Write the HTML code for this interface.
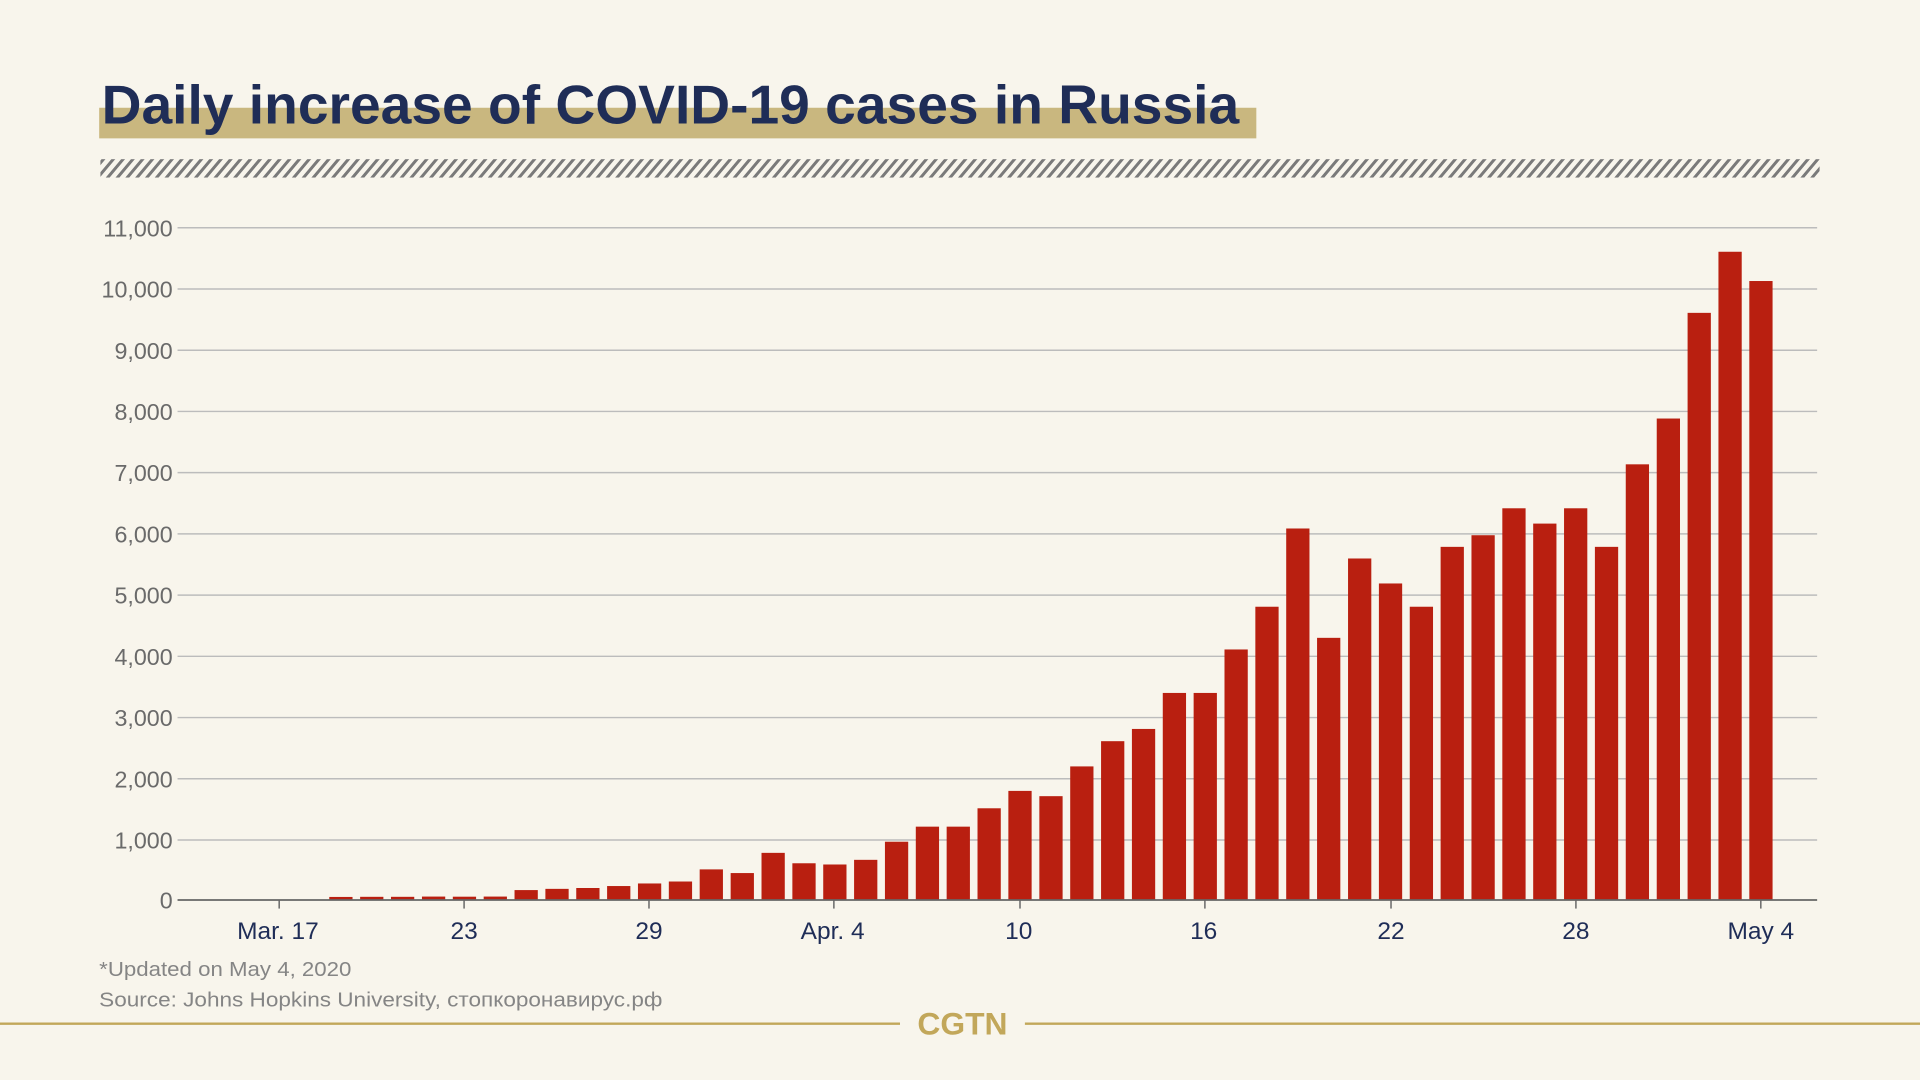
<!DOCTYPE html>
<html><head><meta charset="utf-8"><style>
html,body{margin:0;padding:0;width:1920px;height:1080px;overflow:hidden;background:#f8f5ec}
svg{display:block}
</style></head><body>
<svg width="1920" height="1080" viewBox="0 0 1568 882" preserveAspectRatio="none" xmlns="http://www.w3.org/2000/svg">
<defs>
<pattern id="h" width="8" height="16" patternUnits="userSpaceOnUse" patternTransform="skewX(-40)">
<rect width="8" height="16" fill="#f8f5ec"/><rect width="3.2" height="16" fill="#7a7a7a"/>
</pattern>
</defs>
<rect width="1568" height="882" fill="#f8f5ec"/>
<rect x="81" y="88" width="945" height="25" fill="#c9b77f"/>
<text x="83" y="101" font-family="Liberation Sans, sans-serif" font-weight="bold" font-size="45" fill="#1f2d57" textLength="929" lengthAdjust="spacingAndGlyphs">Daily increase of COVID-19 cases in Russia</text>
<rect x="82" y="130" width="1404" height="15" fill="url(#h)"/>
<g stroke="#bcbcbc" stroke-width="1.2">
<line x1="145" x2="1484" y1="186" y2="186"/><line x1="145" x2="1484" y1="236" y2="236"/>
<line x1="145" x2="1484" y1="286" y2="286"/><line x1="145" x2="1484" y1="336" y2="336"/>
<line x1="145" x2="1484" y1="386" y2="386"/><line x1="145" x2="1484" y1="436" y2="436"/>
<line x1="145" x2="1484" y1="486" y2="486"/><line x1="145" x2="1484" y1="536" y2="536"/>
<line x1="145" x2="1484" y1="586" y2="586"/><line x1="145" x2="1484" y1="636" y2="636"/>
<line x1="145" x2="1484" y1="686" y2="686"/>
</g>
<g font-family="Liberation Sans, sans-serif" font-size="19" fill="#6a6a6a" text-anchor="end">
<text x="141" y="193">11,000</text><text x="141" y="243">10,000</text><text x="141" y="293">9,000</text>
<text x="141" y="343">8,000</text><text x="141" y="393">7,000</text><text x="141" y="443">6,000</text>
<text x="141" y="493">5,000</text><text x="141" y="543">4,000</text><text x="141" y="593">3,000</text>
<text x="141" y="643">2,000</text><text x="141" y="693">1,000</text><text x="141" y="742">0</text>
</g>
<g fill="#b91f10">
<rect x="268.9" y="732.5" width="19" height="2.5"/><rect x="294.1" y="732.4" width="19" height="2.6"/>
<rect x="319.3" y="732.4" width="19" height="2.6"/><rect x="344.6" y="732.2" width="19" height="2.8"/>
<rect x="369.8" y="732.3" width="19" height="2.7"/><rect x="395.0" y="732.2" width="19" height="2.8"/>
<rect x="420.2" y="726.9" width="19" height="8.1"/><rect x="445.4" y="725.9" width="19" height="9.1"/>
<rect x="470.6" y="725.2" width="19" height="9.8"/><rect x="495.8" y="723.6" width="19" height="11.4"/>
<rect x="521.0" y="721.5" width="19" height="13.5"/><rect x="546.2" y="719.9" width="19" height="15.1"/>
<rect x="571.4" y="710.0" width="19" height="25.0"/><rect x="596.7" y="713.0" width="19" height="22.0"/>
<rect x="621.9" y="696.5" width="19" height="38.5"/><rect x="647.1" y="705.0" width="19" height="30.0"/>
<rect x="672.3" y="706.0" width="19" height="29.0"/><rect x="697.5" y="702.2" width="19" height="32.8"/>
<rect x="722.7" y="687.4" width="19" height="47.6"/><rect x="747.9" y="675.1" width="19" height="59.9"/>
<rect x="773.1" y="675.1" width="19" height="59.9"/><rect x="798.3" y="660.1" width="19" height="74.9"/>
<rect x="823.5" y="645.9" width="19" height="89.1"/><rect x="848.8" y="650.2" width="19" height="84.8"/>
<rect x="874.0" y="625.9" width="19" height="109.1"/><rect x="899.2" y="605.3" width="19" height="129.7"/>
<rect x="924.4" y="595.3" width="19" height="139.7"/><rect x="949.6" y="565.9" width="19" height="169.1"/>
<rect x="974.8" y="565.9" width="19" height="169.1"/><rect x="1000.0" y="530.4" width="19" height="204.6"/>
<rect x="1025.2" y="495.5" width="19" height="239.5"/><rect x="1050.4" y="431.6" width="19" height="303.4"/>
<rect x="1075.6" y="520.9" width="19" height="214.1"/><rect x="1100.9" y="456.1" width="19" height="278.9"/>
<rect x="1126.1" y="476.5" width="19" height="258.5"/><rect x="1151.3" y="495.5" width="19" height="239.5"/>
<rect x="1176.5" y="446.6" width="19" height="288.4"/><rect x="1201.7" y="437.1" width="19" height="297.9"/>
<rect x="1226.9" y="415.1" width="19" height="319.9"/><rect x="1252.1" y="427.6" width="19" height="307.4"/>
<rect x="1277.3" y="415.1" width="19" height="319.9"/><rect x="1302.5" y="446.6" width="19" height="288.4"/>
<rect x="1327.7" y="379.2" width="19" height="355.8"/><rect x="1353.0" y="341.8" width="19" height="393.2"/>
<rect x="1378.2" y="255.5" width="19" height="479.5"/><rect x="1403.4" y="205.6" width="19" height="529.4"/>
<rect x="1428.6" y="229.5" width="19" height="505.5"/>
</g>
<line x1="145" x2="1484" y1="735" y2="735" stroke="#666" stroke-width="1.5"/>
<g stroke="#666" stroke-width="1.2">
<line x1="228" x2="228" y1="735" y2="742"/><line x1="379" x2="379" y1="735" y2="742"/>
<line x1="530" x2="530" y1="735" y2="742"/><line x1="681" x2="681" y1="735" y2="742"/>
<line x1="833" x2="833" y1="735" y2="742"/><line x1="984" x2="984" y1="735" y2="742"/>
<line x1="1136" x2="1136" y1="735" y2="742"/><line x1="1287" x2="1287" y1="735" y2="742"/>
<line x1="1438" x2="1438" y1="735" y2="742"/>
</g>
<g font-family="Liberation Sans, sans-serif" font-size="20" fill="#1f2d57" text-anchor="middle">
<text x="227" y="767">Mar. 17</text><text x="379" y="767">23</text><text x="530" y="767">29</text>
<text x="680" y="767">Apr. 4</text><text x="832" y="767">10</text><text x="983" y="767">16</text>
<text x="1136" y="767">22</text><text x="1287" y="767">28</text><text x="1438" y="767">May 4</text>
</g>
<g font-family="Liberation Sans, sans-serif" font-size="16.5" fill="#858585">
<text x="81" y="797" textLength="206" lengthAdjust="spacingAndGlyphs">*Updated on May 4, 2020</text>
<text x="81" y="822" textLength="460" lengthAdjust="spacingAndGlyphs">Source: Johns Hopkins University, стопкоронавирус.рф</text>
</g>
<line x1="0" x2="735" y1="836" y2="836" stroke="#c2a75a" stroke-width="2"/>
<line x1="837" x2="1568" y1="836" y2="836" stroke="#c2a75a" stroke-width="2"/>
<text x="786" y="845" font-family="Liberation Sans, sans-serif" font-weight="bold" font-size="26" fill="#c2a75a" text-anchor="middle">CGTN</text>
</svg>
</body></html>
